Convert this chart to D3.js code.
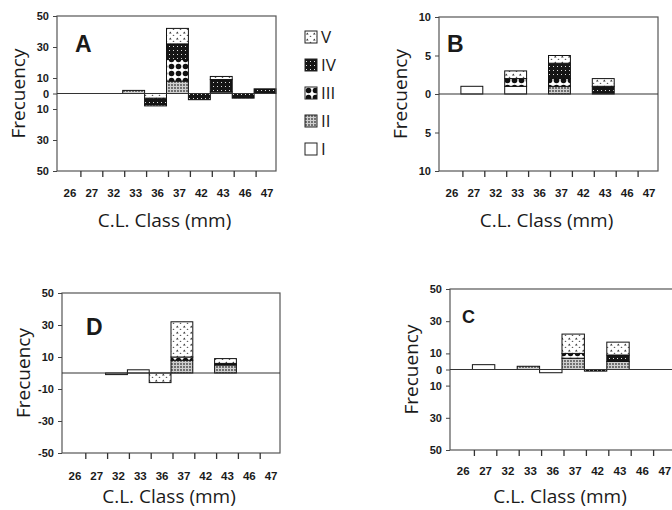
<!DOCTYPE html>
<html lang="en">
<head>
<meta charset="UTF-8">
<title>C.L. Class</title>
<script src="https://cdn.jsdelivr.net/npm/d3@7"></script>
<style>
  body { margin: 0; background: #fff; }
  svg text { fill: #1a1a1a; }
</style>
</head>
<body>
<script>
    // classes and stages
    var cats = ["26", "27", "32", "33", "36", "37", "42", "43", "46", "47"];
    var stages = ["I", "II", "III", "IV", "V"];

    // panel A (signed: negative = below the zero line)
    var aI   = [0, 0, 0, 0, 0, 0, 0, 0, 0, 0];
    var aII  = [0, 0, 0, 2, -1, 8, 0, 1, 0, 0];
    var aIII = [0, 0, 0, 0, 0, 14, 0, 0, 0, 0];
    var aIV  = [0, 0, 0, 0, -4, 10, -4, 8, -3, 3];
    var aV   = [0, 0, 0, 0, -3, 10, 0, 2, 0, 0];

    // panel B
    var bI   = [0, 1, 0, 1, 0, 0, 0, 0, 0, 0];
    var bII  = [0, 0, 0, 0, 0, 1, 0, 0, 0, 0];
    var bIII = [0, 0, 0, 1, 0, 1, 0, 0, 0, 0];
    var bIV  = [0, 0, 0, 0, 0, 2, 0, 1, 0, 0];
    var bV   = [0, 0, 0, 1, 0, 1, 0, 1, 0, 0];

    // panel D
    var dI   = [0, 0, -1, 2, 0, 0, 0, 0, 0, 0];
    var dII  = [0, 0, 0, 0, 0, 8, 0, 5, 0, 0];
    var dIII = [0, 0, 0, 0, 0, 2, 0, 0, 0, 0];
    var dIV  = [0, 0, 0, 0, 0, 0, 0, 1, 0, 0];
    var dV   = [0, 0, 0, 0, -6, 22, 0, 3, 0, 0];

    // panel C
    var cI   = [0, 3, 0, 0, -2, 0, 0, 0, 0, 0];
    var cII  = [0, 0, 0, 2, 0, 7, 0, 5, 0, 0];
    var cIII = [0, 0, 0, 0, 0, 3, 0, 0, 0, 0];
    var cIV  = [0, 0, 0, 0, 0, 0, -1, 4, 0, 0];
    var cV   = [0, 0, 0, 0, 0, 12, 0, 8, 0, 0];

    // y tick labels
    var ticks50 = [50, 30, 10, 0, -10, -30, -50];
    var ticks10 = [10, 5, 0, -5, -10];
    var ticksD = [50, 30, 10, -10, -30, -50];

    var width = 672, height = 510;
    var svg = d3.select("body").append("svg").attr("width", width).attr("height", height);

    // fill patterns for the stages
    var defs = svg.append("defs");
    function pat(id, w, h) {
        var p = defs.append("pattern").attr("id", id).attr("patternUnits", "userSpaceOnUse")
            .attr("width", w).attr("height", h);
        return p;
    }
    var p2 = pat("pII", 3, 3);
    p2.append("rect").attr("width", 3).attr("height", 3).attr("fill", "#cfcfcf");
    p2.append("circle").attr("cx", 1).attr("cy", 1).attr("r", 0.9).attr("fill", "#444");
    var p3 = pat("pIII", 7, 7);
    p3.append("rect").attr("width", 7).attr("height", 7).attr("fill", "#fff");
    p3.append("circle").attr("cx", 3.5).attr("cy", 3.5).attr("r", 2.8).attr("fill", "#111");
    var p4 = pat("pIV", 4, 4);
    p4.append("rect").attr("width", 4).attr("height", 4).attr("fill", "#151515");
    p4.append("rect").attr("x", 1).attr("y", 2).attr("width", 1).attr("height", 1).attr("fill", "#ddd");
    var p5 = pat("pV", 7, 6);
    p5.append("rect").attr("width", 7).attr("height", 6).attr("fill", "#fff");
    p5.append("path").attr("d", "M1,3.5L2.3,1.5L3.6,3.5Z").attr("fill", "#333");
    p5.append("path").attr("d", "M4.5,6L5.5,4.5L6.5,6Z").attr("fill", "#555");

    var fills = {I: "#fff", II: "url(#pII)", III: "url(#pIII)", IV: "url(#pIV)", V: "url(#pV)"};

    function panel(cfg) {
        var g = svg.append("g");
        var x = d3.scaleBand().domain(cats).range([cfg.x0, cfg.x1]);
        var y = d3.scaleLinear().domain([-cfg.max, cfg.max]).range([cfg.y1, cfg.y0]);

        // stack each class: positive from zero upward, negative from -total upward
        var segs = [];
        cats.forEach(function (c, i) {
            var total = 0;
            cfg.series.forEach(function (s) { total += s[i]; });
            var base = total < 0 ? total : 0;
            cfg.series.forEach(function (s, k) {
                var v = Math.abs(s[i]);
                if (v > 0) {
                    segs.push({c: c, stage: stages[k], y0: base, y1: base + v});
                    base += v;
                }
            });
        });

        g.selectAll("rect.seg").data(segs).enter().append("rect")
            .attr("class", "seg")
            .attr("x", function (d) { return x(d.c); })
            .attr("width", x.bandwidth())
            .attr("y", function (d) { return y(d.y1); })
            .attr("height", function (d) { return y(d.y0) - y(d.y1); })
            .attr("fill", function (d) { return fills[d.stage]; })
            .attr("stroke", "#111")
            .attr("stroke-width", 1);

        // frame and zero line
        g.append("rect").attr("x", cfg.x0).attr("y", cfg.y0)
            .attr("width", (cfg.frameRight || cfg.x1) - cfg.x0).attr("height", cfg.y1 - cfg.y0)
            .attr("fill", "none").attr("stroke", "#555").attr("stroke-width", 1.2);
        g.append("line").attr("x1", cfg.x0).attr("x2", cfg.frameRight || cfg.x1)
            .attr("y1", y(0)).attr("y2", y(0)).attr("stroke", "#333").attr("stroke-width", 1.2);

        // y axis
        var ya = g.append("g").attr("transform", "translate(" + cfg.x0 + ",0)")
            .call(d3.axisLeft(y).tickValues(cfg.ticks).tickSize(4).tickPadding(4)
                .tickFormat(function (d) { return cfg.signed ? d : Math.abs(d); }));
        ya.select(".domain").remove();
        ya.selectAll("line").attr("stroke", "#444");
        ya.selectAll("text").attr("font-family", "Liberation Sans, Arial").attr("font-weight", "bold")
            .attr("font-size", "11px").attr("fill", "#222");

        // x ticks at the class boundaries, labels in the classes
        g.selectAll("line.xt").data(cats.slice(1)).enter().append("line")
            .attr("class", "xt")
            .attr("x1", function (d) { return x(d) + 2; }).attr("x2", function (d) { return x(d) + 2; })
            .attr("y1", cfg.y1).attr("y2", cfg.y1 + 6)
            .attr("stroke", "#333").attr("stroke-width", 1.3);
        g.selectAll("text.xl").data(cats).enter().append("text")
            .attr("class", "xl")
            .attr("x", function (d) { return x(d) + x.bandwidth() / 2 + 2; })
            .attr("y", cfg.y1 + cfg.cy)
            .attr("text-anchor", "middle")
            .attr("font-family", "Liberation Sans, Arial").attr("font-weight", "bold").attr("font-size", "11.5px")
            .text(function (d) { return d; });

        // titles
        g.append("text").attr("x", (cfg.x0 + cfg.x1) / 2 - 2).attr("y", cfg.y1 + cfg.ty)
            .attr("text-anchor", "middle").attr("font-family", "Open Sans").attr("font-size", "19px")
            .text("C.L. Class (mm)");
        g.append("text")
            .attr("transform", "translate(" + (cfg.x0 - 32) + "," + ((cfg.y0 + cfg.y1) / 2) + ") rotate(-90)")
            .attr("text-anchor", "middle").attr("font-family", "Open Sans").attr("font-size", "19px")
            .text("Frecuency");
        g.append("text").attr("x", cfg.x0 + cfg.lx).attr("y", cfg.y0 + cfg.ly)
            .attr("font-family", "Liberation Sans, Arial").attr("font-weight", "bold")
            .attr("font-size", cfg.lsize || "23px").text(cfg.label);
    }

    panel({label: "A", x0: 57, x1: 276, y0: 16, y1: 171, max: 50, ticks: ticks50,
        series: [aI, aII, aIII, aIV, aV], lx: 18, ly: 36, cy: 26, ty: 56});
    panel({label: "B", x0: 439, x1: 658, y0: 17, y1: 171, max: 10, ticks: ticks10,
        series: [bI, bII, bIII, bIV, bV], lx: 8, ly: 35, cy: 26, ty: 56});
    panel({label: "D", x0: 62, x1: 280, y0: 293, y1: 453, max: 50, ticks: ticksD, signed: true,
        series: [dI, dII, dIII, dIV, dV], lx: 24, ly: 42, cy: 27, ty: 50});
    panel({label: "C", x0: 450, x1: 674, frameRight: 680, y0: 289, y1: 450, max: 50, ticks: ticks50,
        series: [cI, cII, cIII, cIV, cV], lx: 12, ly: 34, lsize: "18px", cy: 25, ty: 53});

    // legend for panel A
    var legend = svg.append("g").selectAll("g").data(stages.slice().reverse()).enter().append("g")
        .attr("transform", function (d, i) { return "translate(305," + (31 + i * 28) + ")"; });
    legend.append("rect").attr("width", 12).attr("height", 12)
        .attr("fill", function (d) { return fills[d]; }).attr("stroke", "#222").attr("stroke-width", 1);
    legend.append("text").attr("x", 16).attr("y", 12)
        .attr("font-family", "Open Sans").attr("font-size", "17px").text(function (d) { return d; });
</script>
</body>
</html>
